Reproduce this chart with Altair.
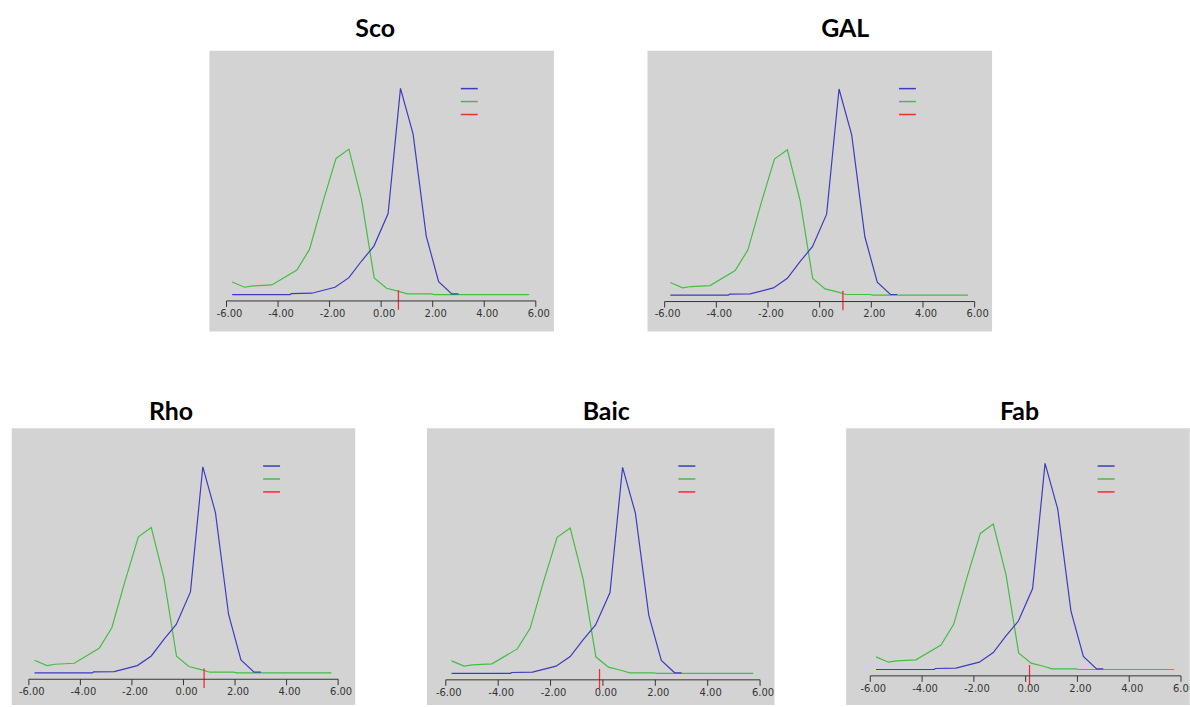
import altair as alt
import pandas as pd

# ---- data (same two curves in every panel) ----
blue_x = [-5.78, -3.53, -3.49, -2.69, -1.79, -1.25, -0.76, -0.28, 0.27, 0.75, 1.24, 1.75, 2.23, 2.74, 3.00]
blue_y = [0.0, 0.0, 0.0019, 0.0026, 0.0142, 0.0329, 0.0652, 0.0942, 0.1574, 0.4006, 0.3116, 0.1135, 0.0252, 0.0013, 0.0013]
green_x = [-5.78, -5.30, -4.98, -4.24, -3.27, -2.78, -2.27, -1.75, -1.25, -0.76, -0.27, 0.21, 0.72, 1.02, 1.94, 2.07, 5.74]
green_y = [0.0245, 0.0142, 0.0168, 0.0187, 0.0477, 0.0877, 0.178, 0.2645, 0.2826, 0.1845, 0.0323, 0.0123, 0.0058, 0.0013, 0.0013, 0.0, 0.0]
panel_names = ["Sco", "GAL", "Rho", "Baic", "Fab"]
marker_values = [0.67, 0.90, 0.80, -0.13, 0.15]
tick_values = [-6, -4, -2, 0, 2, 4, 6]
tick_labels = ["-6.00", "-4.00", "-2.00", "0.00", "2.00", "4.00", "6.00"]
series_names = ["Series 1", "Series 2", "Marker"]

# ---- styles ----
COLORS = ["#3c3cbe", "#44bd44", "#ee3030"]
PANEL_FILL = "#d3d3d3"
AXIS_Y = -0.0124          # axis line level (data units)
TICK_LEN = 0.0116         # tick length below axis line (data units)
MARK_TOP = 0.0087
MARK_BOTTOM = -0.0295

# per-panel geometry: x domain, y domain, width, height, title offset / shift
geom = {
    "Sco":  dict(xd=[-6.684, 6.684], yd=[-0.0710, 0.4747], w=346, h=282, toff=-12, tdx=-6),
    "GAL":  dict(xd=[-6.682, 6.655], yd=[-0.0698, 0.4759], w=346, h=282, toff=-12, tdx=26),
    "Rho":  dict(xd=[-6.684, 6.645], yd=[-0.0615, 0.4766], w=345, h=278, toff=-17, tdx=-12),
    "Baic": dict(xd=[-6.738, 6.532], yd=[-0.0604, 0.4777], w=349, h=278, toff=-17, tdx=6),
    "Fab":  dict(xd=[-6.950, 6.319], yd=[-0.0681, 0.4700], w=345, h=278, toff=-17, tdx=2),
}

curves = pd.concat([
    pd.DataFrame({"x": green_x, "y": green_y, "series": series_names[1]}),
    pd.DataFrame({"x": blue_x, "y": blue_y, "series": series_names[0]}),
], ignore_index=True)
ticks = pd.DataFrame({"v": tick_values, "label": tick_labels})

color_scale = alt.Scale(domain=series_names, range=COLORS)


def panel(name, marker):
    g = geom[name]
    xs = alt.Scale(domain=g["xd"], nice=False, zero=False)
    ys = alt.Scale(domain=g["yd"], nice=False, zero=False)
    legend = alt.Legend(orient="none", legendX=252, legendY=29, symbolType="stroke",
                        symbolSize=289, symbolStrokeWidth=1.5, labelExpr="''", title=None,
                        padding=0, rowPadding=0, symbolOffset=0, labelFontSize=1)
    lines = alt.Chart(curves).mark_line(strokeWidth=1.2, clip=True).encode(
        x=alt.X("x:Q", scale=xs, axis=None),
        y=alt.Y("y:Q", scale=ys, axis=None),
        color=alt.Color("series:N", scale=color_scale, legend=legend),
        order=alt.Order("x:Q"),
    )
    mk = alt.Chart(pd.DataFrame({"x": [marker], "series": [series_names[2]]})).mark_rule(
        strokeWidth=1.3).encode(
        x=alt.X("x:Q", scale=xs),
        y=alt.datum(MARK_TOP, scale=ys),
        y2=alt.datum(MARK_BOTTOM),
        color=alt.Color("series:N", scale=color_scale, legend=legend),
    )
    axis_line = alt.Chart(ticks).mark_rule(color="#333333", strokeWidth=1).encode(
        x=alt.X("min(v):Q", scale=xs),
        x2="max(v):Q",
        y=alt.datum(AXIS_Y, scale=ys),
    )
    tick_marks = alt.Chart(ticks).mark_rule(color="#333333", strokeWidth=1).encode(
        x=alt.X("v:Q", scale=xs),
        y=alt.datum(AXIS_Y, scale=ys),
        y2=alt.datum(AXIS_Y - TICK_LEN),
    )
    labels = alt.Chart(ticks).mark_text(font="DejaVu Sans", fontSize=10, color="#333333",
                                        baseline="middle", align="center", dy=13, dx=3,
                                        clip=True).encode(
        x=alt.X("v:Q", scale=xs),
        y=alt.datum(AXIS_Y, scale=ys),
        text="label:N",
    )
    return alt.layer(lines, mk, axis_line, tick_marks, labels).properties(
        width=g["w"], height=g["h"],
        title=alt.TitleParams(name, font="Lato", fontSize=25, fontWeight="bold", color="black",
                              anchor="middle", baseline="alphabetic", offset=g["toff"],
                              dx=g["tdx"]),
    )


charts = [panel(n, m) for n, m in zip(panel_names, marker_values)]
top = alt.hconcat(charts[0], charts[1], spacing=92).resolve_scale(color="independent")
bottom = alt.hconcat(charts[2], charts[3], charts[4], spacing=70).resolve_scale(color="independent")
chart = alt.vconcat(top, bottom, spacing=67, center=True).resolve_scale(
    color="independent"
).properties(
    padding={"left": 10, "top": 15, "right": 0, "bottom": 0},
    background="white",
).configure_view(fill=PANEL_FILL, stroke="transparent")

chart.save("out.html", embed_options={"renderer": "svg", "actions": False})
